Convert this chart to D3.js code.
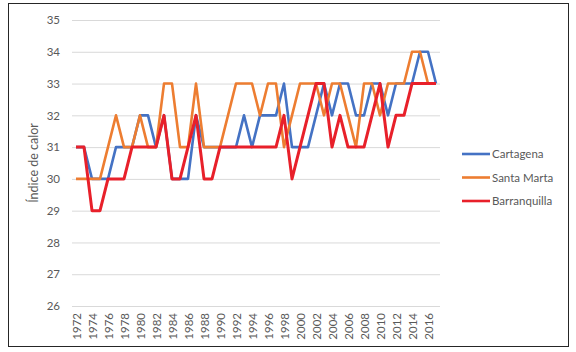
<!DOCTYPE html>
<html>
<head>
<meta charset="utf-8">
<script src="https://cdn.jsdelivr.net/npm/d3@7"></script>
<style>
  body { margin: 0; background: #fff; }
  svg { font-family: Lato, "Open Sans", sans-serif; }
</style>
</head>
<body>
<script>
// years 1972..2017, one value per year
var years = d3.range(1972, 2018);
var yearLabels = d3.range(1972, 2018, 2);
var yTicks = [26, 27, 28, 29, 30, 31, 32, 33, 34, 35];

var cartagena = [31,31,30,30,30,31,31,31,32,32,31,32,30,30,30,32,31,31,31,31,31,32,31,32,32,32,33,31,31,31,32,33,32,33,33,32,32,33,33,32,33,33,33,34,34,33];
var santaMarta = [30,30,30,30,31,32,31,31,32,31,31,33,33,31,31,33,31,31,31,32,33,33,33,32,33,33,31,32,33,33,33,32,33,33,32,31,33,33,32,33,33,33,34,34,33,33];
var barranquilla = [31,31,29,29,30,30,30,31,31,31,31,32,30,30,31,32,30,30,31,31,31,31,31,31,31,31,32,30,31,32,33,33,31,32,31,31,31,32,33,31,32,32,33,33,33,33];

var seriesNames = ["Cartagena", "Santa Marta", "Barranquilla"];
var seriesValues = [cartagena, santaMarta, barranquilla];
var colors = ["#4472C4", "#ED7D31", "#E8202A"];

var width = 576, height = 352;
var plot = {left: 72, right: 440, top: 20, bottom: 306};

var svg = d3.select("body").append("svg").attr("width", width).attr("height", height);

// outer frame
svg.append("rect")
  .attr("x", 8.5).attr("y", 3.5)
  .attr("width", 560).attr("height", 343)
  .attr("fill", "#fff").attr("stroke", "#262626").attr("stroke-width", 1);

var x = d3.scalePoint()
  .domain(years)
  .range([plot.left, plot.right])
  .padding(0.5);

var y = d3.scaleLinear()
  .domain([26, 35])
  .range([plot.bottom, plot.top]);

// y axis with gridlines
var yAxis = d3.axisLeft(y)
  .tickValues(yTicks)
  .tickSize(-(plot.right - plot.left))
  .tickPadding(12)
  .tickFormat(d3.format("d"));

var yg = svg.append("g")
  .attr("transform", "translate(" + plot.left + ",0)")
  .call(yAxis);
yg.select(".domain").remove();
yg.selectAll(".tick line").attr("stroke", "#d9d9d9").attr("stroke-width", 1);
yg.selectAll(".tick text").attr("fill", "#595959").attr("font-size", 11.5)
  .attr("font-family", "Lato, sans-serif");

// x axis labels, rotated
var xAxis = d3.axisBottom(x)
  .tickValues(yearLabels)
  .tickSize(0)
  .tickFormat(d3.format("d"));

var xg = svg.append("g")
  .attr("transform", "translate(0," + plot.bottom + ")")
  .call(xAxis);
xg.select(".domain").remove();
xg.selectAll(".tick text")
  .attr("fill", "#595959")
  .attr("font-size", 11.5)
  .attr("font-family", "Lato, sans-serif")
  .attr("text-anchor", "end")
  .attr("transform", "rotate(-90)")
  .attr("x", -7)
  .attr("y", 0)
  .attr("dy", "0.35em");

// y title
svg.append("text")
  .attr("transform", "translate(38," + ((plot.top + plot.bottom) / 2) + ") rotate(-90)")
  .attr("text-anchor", "middle")
  .attr("fill", "#595959")
  .attr("font-size", 12.5)
  .text("Índice de calor");

// lines
var line = d3.line()
  .x(function(d, i) { return x(years[i]); })
  .y(function(d) { return y(d); });

seriesValues.forEach(function(vals, k) {
  svg.append("path")
    .datum(vals)
    .attr("fill", "none")
    .attr("stroke", colors[k])
    .attr("stroke-width", k == 2 ? 3 : 2.6)
    .attr("stroke-linejoin", "round")
    .attr("d", line);
});

// legend
var legend = svg.append("g").attr("transform", "translate(462,154)");
seriesNames.forEach(function(name, k) {
  var g = legend.append("g").attr("transform", "translate(0," + (k * 23.5) + ")");
  g.append("line")
    .attr("x1", 0).attr("x2", 28)
    .attr("stroke", colors[k]).attr("stroke-width", 2.6);
  g.append("text")
    .attr("x", 30).attr("dy", "0.35em")
    .attr("fill", "#595959").attr("font-size", 11.5)
    .text(name);
});
</script>
</body>
</html>
